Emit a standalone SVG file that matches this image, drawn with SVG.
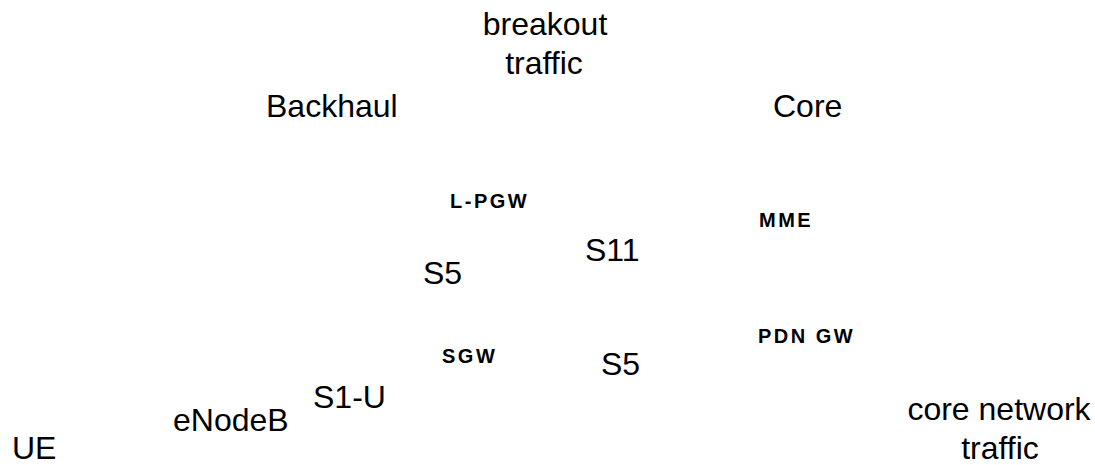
<svg xmlns="http://www.w3.org/2000/svg" width="1095" height="465" viewBox="0 0 1095 465">
<style>
.big{font-family:"Liberation Sans",Arial,sans-serif;font-size:32px;fill:#000}
.lab{font-family:"Liberation Sans",Arial,sans-serif;font-size:20px;font-weight:bold;letter-spacing:2.5px;fill:#000}
</style>
<rect width="1095" height="465" fill="#fff"/>
<g id="breakout"><text class="big" x="545" y="35" text-anchor="middle">breakout</text><text class="big" x="544" y="74" text-anchor="middle">traffic</text></g>
<g id="backhaul"><text class="big" x="266" y="117">Backhaul</text></g>
<g id="core"><text class="big" x="773" y="117">Core</text></g>
<g id="lpgw"><text class="lab" x="450" y="208">L-PGW</text></g>
<g id="mme"><text class="lab" x="759" y="227">MME</text></g>
<g id="pdngw"><text class="lab" x="758" y="343">PDN GW</text></g>
<g id="sgw"><text class="lab" x="442" y="363">SGW</text></g>
<g id="enodeb"><text class="big" x="173" y="431">eNodeB</text></g>
<g id="ue"><text class="big" x="12" y="459">UE</text></g>
<g id="corenet"><text class="big" x="999" y="420" text-anchor="middle">core network</text><text class="big" x="1000" y="459" text-anchor="middle">traffic</text></g>
<g id="connectors">
<text class="big" x="585" y="261">S11</text>
<text class="big" x="423" y="284">S5</text>
<text class="big" x="601" y="375">S5</text>
<text class="big" x="313" y="408">S1-U</text>
</g>
</svg>
